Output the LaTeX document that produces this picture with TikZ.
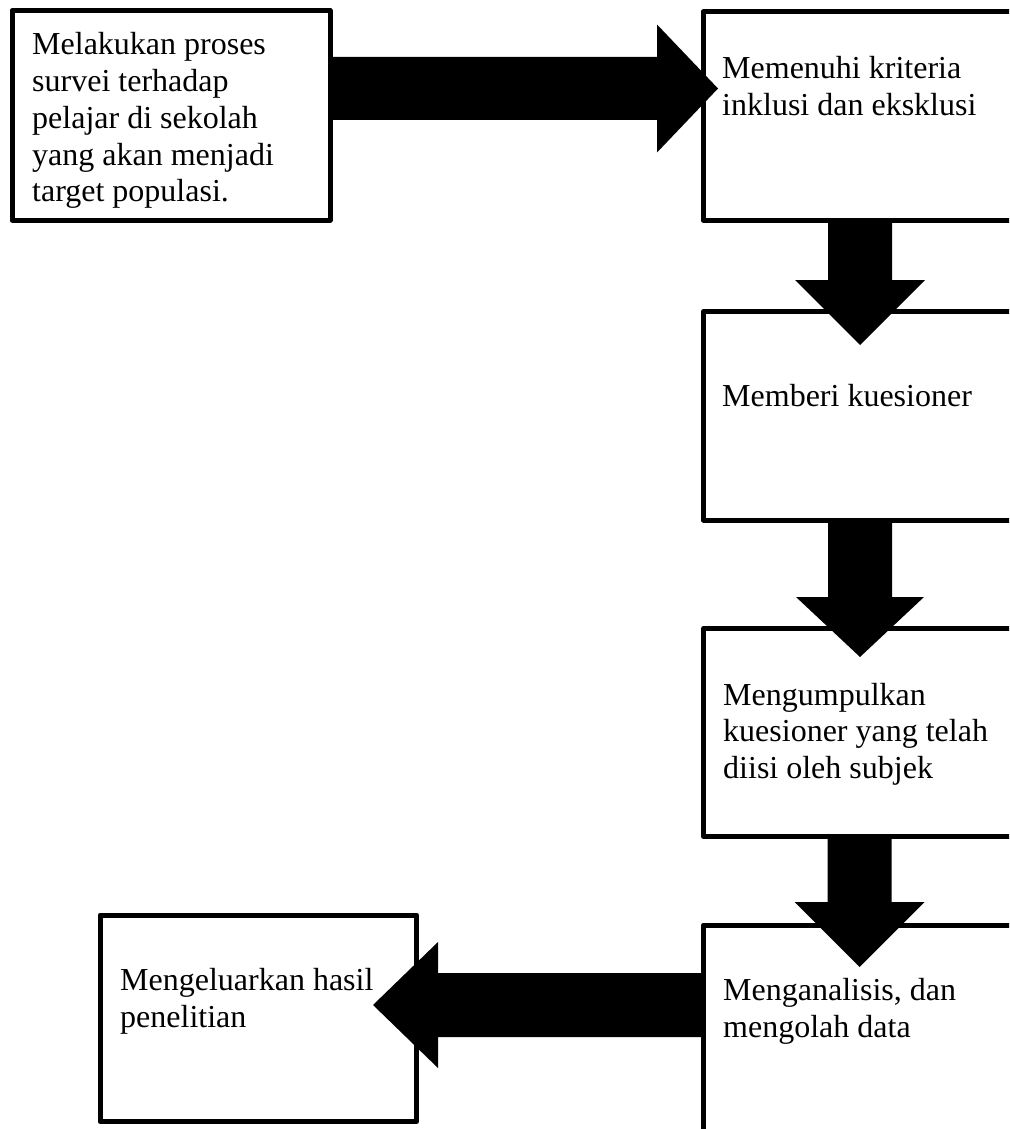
\documentclass[tikz,border=0pt]{standalone}
\usepackage{fontspec}
\setmainfont{Liberation Serif}
\usetikzlibrary{calc}
\tikzset{
  box/.style={draw=black, line width=5pt, line join=round, fill=white, anchor=north west, inner sep=0pt},
  txt/.style={anchor=base west, align=left, inner sep=0pt, font=\fontsize{32}{36.7}\selectfont},
  fat/.style={fill=black}
}
\begin{document}
\begin{tikzpicture}[x=1pt,y=-1pt]
\clip (0,0) rectangle (1009,1129);
\fill[white] (0,0) rectangle (1009,1129);
% boxes
\node[box, minimum width=318pt, minimum height=209.5pt] (b1) at (9.5,8) {};
\node[box, minimum width=319.5pt, minimum height=208pt] (b2) at (700.5,9.5) {};
\node[box, minimum width=319pt, minimum height=208.5pt] (b3) at (701,309) {};
\node[box, minimum width=319pt, minimum height=208pt] (b4) at (701,626) {};
\node[box, minimum width=319pt, minimum height=217.5pt] (b5) at (701,922.5) {};
\node[box, minimum width=316.5pt, minimum height=206.5pt] (b6) at (97.5,912.5) {};
% texts (anchored at the baseline of their last line)
\node[txt] (x1) at (32,201.7) {Melakukan proses\\survei terhadap\\pelajar di sekolah\\yang akan menjadi\\target populasi.};
\node[txt] (x2) at (722,115.2) {Memenuhi kriteria\\inklusi dan eksklusi};
\node[txt] (x3) at (722,406) {Memberi kuesioner};
\node[txt] (x4) at (723,778.4) {Mengumpulkan\\kuesioner yang telah\\diisi oleh subjek};
\node[txt] (x5) at (723,1037) {Menganalisis, dan\\mengolah data};
\node[txt] (x6) at (120,1027) {Mengeluarkan hasil\\penelitian};
% arrow tips
\coordinate (t1) at (718,88.5);
\coordinate (t2) at (860,345);
\coordinate (t3) at (860,657);
\coordinate (t4) at (859.5,967);
\coordinate (t5) at (373,1005);
% arrow 1: b1 -> b2 (right)
\fill[fat] ($(b1.east |- t1)+(0,-31.5)$) -- ($(t1)+(-61,-31.5)$) -- ($(t1)+(-61,-64)$) -- (t1)
  -- ($(t1)+(-61,64)$) -- ($(t1)+(-61,31.5)$) -- ($(b1.east |- t1)+(0,31.5)$) -- cycle;
% arrow 2: b2 -> b3 (down)
\fill[fat] ($(b2.south -| t2)+(-32,0)$) -- ($(t2)+(-32,-65)$) -- ($(t2)+(-65,-65)$) -- (t2)
  -- ($(t2)+(65,-65)$) -- ($(t2)+(32,-65)$) -- ($(b2.south -| t2)+(32,0)$) -- cycle;
% arrow 3: b3 -> b4 (down)
\fill[fat] ($(b3.south -| t3)+(-32,0)$) -- ($(t3)+(-32,-60)$) -- ($(t3)+(-64,-60)$) -- (t3)
  -- ($(t3)+(64,-60)$) -- ($(t3)+(32,-60)$) -- ($(b3.south -| t3)+(32,0)$) -- cycle;
% arrow 4: b4 -> b5 (down)
\fill[fat] ($(b4.south -| t4)+(-32,0)$) -- ($(t4)+(-32,-65)$) -- ($(t4)+(-65,-65)$) -- (t4)
  -- ($(t4)+(65,-65)$) -- ($(t4)+(32,-65)$) -- ($(b4.south -| t4)+(32,0)$) -- cycle;
% arrow 5: b5 -> b6 (left)
\fill[fat] ($(b5.west |- t5)+(0,-32)$) -- ($(t5)+(65,-32)$) -- ($(t5)+(65,-63)$) -- (t5)
  -- ($(t5)+(65,63)$) -- ($(t5)+(65,32)$) -- ($(b5.west |- t5)+(0,32)$) -- cycle;
\end{tikzpicture}
\end{document}
